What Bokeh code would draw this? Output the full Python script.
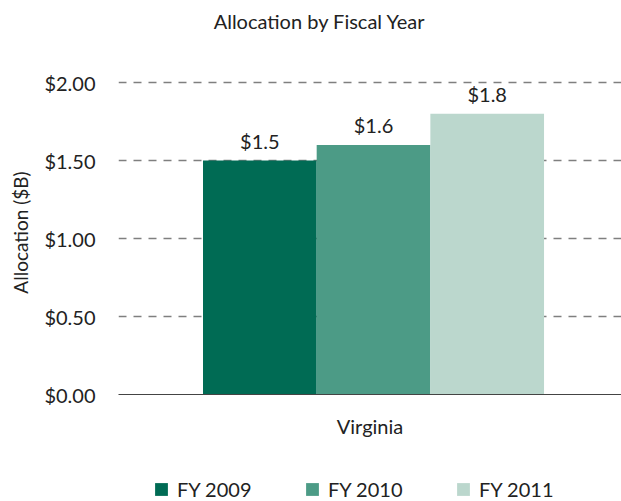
from bokeh.plotting import figure
from bokeh.layouts import column
from bokeh.models import (ColumnDataSource, FactorRange, Range1d, FixedTicker,
                          NumeralTickFormatter, Legend, LegendItem, Label)
from bokeh.transform import dodge
from bokeh.core.properties import value
from bokeh.embed import file_html
from bokeh.resources import INLINE

# ---- data ----
title_text = "Allocation by Fiscal Year"
states = ["Virginia"]
series = ["FY 2009", "FY 2010", "FY 2011"]
fy2009 = [1.5]
fy2010 = [1.6]
fy2011 = [1.8]
value_labels = [["$1.5"], ["$1.6"], ["$1.8"]]
y_ticks = [0.0, 0.5, 1.0, 1.5, 2.0]

colors = ["#006B54", "#4C9B86", "#BBD7CD"]
offsets = [-0.219, 0.007, 0.233]
bar_w = 0.226
FONT = "Lato"
TXT = "#222222"


def strip(height, x_range, y_range):
    f = figure(x_range=x_range, y_range=y_range, width=621, height=height,
               output_backend="svg", toolbar_location=None,
               x_axis_location=None, y_axis_location=None,
               min_border_left=0, min_border_right=0, min_border_top=0,
               min_border_bottom=0)
    f.outline_line_color = None
    f.xgrid.visible = False
    f.ygrid.visible = False
    return f


# title strip
tf = strip(40, Range1d(0, 1), Range1d(0, 1))
tf.add_layout(Label(x=0.40, y=0.5, text=title_text, text_align="center",
                    text_baseline="middle", text_font=FONT,
                    text_font_size="20px", text_color=TXT))

# main chart
p = figure(x_range=FactorRange(factors=states), y_range=Range1d(0, 2.077),
           width=621, height=401, output_backend="svg", toolbar_location=None,
           min_border_left=118, min_border_right=0, min_border_top=30,
           min_border_bottom=47)

p.outline_line_color = None
p.xgrid.grid_line_color = None
p.ygrid.grid_line_color = "#7f7f7f"
p.ygrid.grid_line_dash = "8 7"
p.ygrid.grid_line_width = 1.3

p.yaxis.ticker = FixedTicker(ticks=y_ticks)
p.yaxis.formatter = NumeralTickFormatter(format="$0.00")
p.yaxis.axis_line_color = None
p.yaxis.major_tick_line_color = None
p.yaxis.minor_tick_line_color = None
p.yaxis.major_label_standoff = 17
p.yaxis.major_label_text_font = FONT
p.yaxis.major_label_text_font_size = "20px"
p.yaxis.major_label_text_color = TXT
p.yaxis.axis_label = "Allocation ($B)"
p.yaxis.axis_label_text_font = FONT
p.yaxis.axis_label_text_font_size = "19px"
p.yaxis.axis_label_text_font_style = "normal"
p.yaxis.axis_label_text_color = TXT
p.yaxis.axis_label_standoff = 9

p.xaxis.axis_line_color = "#444444"
p.xaxis.axis_line_width = 1.2
p.xaxis.major_tick_line_color = None
p.xaxis.minor_tick_line_color = None
p.xaxis.major_label_standoff = 13
p.xaxis.major_label_text_font = FONT
p.xaxis.major_label_text_font_size = "20px"
p.xaxis.major_label_text_color = TXT

# legend strip
lf = strip(60, p.x_range, Range1d(100, 101))

items = []
for name, vals, lab, col, off in zip(series, [fy2009, fy2010, fy2011],
                                      value_labels, colors, offsets):
    src = ColumnDataSource(dict(x=states, y=vals, label=lab))
    p.vbar(x=dodge("x", off, range=p.x_range), top="y", width=bar_w,
           source=src, fill_color=col, line_color=None)
    p.text(x=dodge("x", off, range=p.x_range), y="y", text="label", source=src,
           text_align="center", text_baseline="bottom", y_offset=-8,
           text_font=value(FONT), text_font_size="20px", text_color=TXT)
    r = lf.vbar(x=dodge("x", off, range=p.x_range), top="y", width=bar_w,
                source=src, fill_color=col, line_color=None)
    items.append(LegendItem(label=name, renderers=[r]))

legend = Legend(items=items, orientation="horizontal", location=(35, 0),
                glyph_width=16, glyph_height=16, label_standoff=8,
                label_width=100, label_height=20, spacing=27,
                padding=0, margin=0, border_line_color=None,
                background_fill_alpha=0,
                label_text_font=FONT, label_text_font_size="20px",
                label_text_color=TXT)
lf.add_layout(legend)

layout = column(tf, p, lf, spacing=0)
open("out.html", "w").write(file_html(layout, INLINE))
